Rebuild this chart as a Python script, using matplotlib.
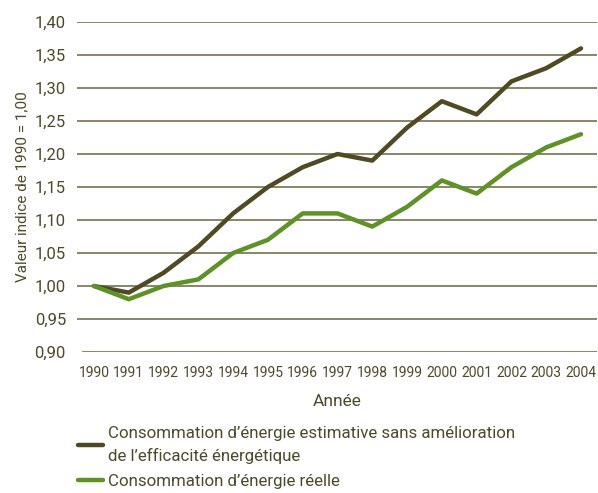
import matplotlib
matplotlib.use("Agg")
import matplotlib.pyplot as plt
from matplotlib.lines import Line2D

plt.rcParams['font.family'] = ['Roboto', 'DejaVu Sans']

years = list(range(1990, 2005))
estimated = [1.00, 0.99, 1.02, 1.06, 1.11, 1.15, 1.18, 1.20, 1.19, 1.24, 1.28, 1.26, 1.31, 1.33, 1.36]
actual = [1.00, 0.98, 1.00, 1.01, 1.05, 1.07, 1.11, 1.11, 1.09, 1.12, 1.16, 1.14, 1.18, 1.21, 1.23]
yticks = [0.90, 0.95, 1.00, 1.05, 1.10, 1.15, 1.20, 1.25, 1.30, 1.35, 1.40]
label_est = "Consommation d\u2019énergie estimative sans amélioration\nde l\u2019efficacité énergétique"
label_act = "Consommation d\u2019énergie réelle"

dark = '#4f4a24'
green = '#5e9127'
grid = '#7f7c5c'
text = '#4b4a2c'

W, H = 598, 493
fig = plt.figure(figsize=(W/100, H/100), dpi=100)
ax = fig.add_axes([77/W, 1-352/H, 520/W, 330/H])

ax.plot(years, estimated, color=dark, lw=3.2, solid_capstyle='round', zorder=3)
ax.plot(years, actual, color=green, lw=3.2, solid_capstyle='round', zorder=3)

ax.set_ylim(0.90, 1.40)
ax.set_xlim(1990 - 17/34.79, 2004 + 16/34.79)
ax.set_yticks(yticks)
ax.set_yticklabels([f"{v:.2f}".replace('.', ',') for v in yticks])
ax.set_xticks(years)
ax.set_xticklabels([str(y) for y in years])
for v in yticks:
    ax.axhline(v, xmin=(6/520 if v == yticks[0] else 0), color=grid, lw=1.3, zorder=1)
for s in ax.spines.values():
    s.set_visible(False)
ax.tick_params(axis='y', length=0, pad=8, labelsize=12, labelcolor=text)
ax.tick_params(axis='x', length=0, pad=10, labelsize=10, labelcolor=text)

ax.set_ylabel("Valeur indice de 1990 = 1,00", fontsize=11, color=text, labelpad=4)
ax.set_xlabel("Année", fontsize=12.5, color=text, labelpad=10)

handles = [Line2D([], [], color=dark, lw=3.2, solid_capstyle='round'),
           Line2D([], [], color=green, lw=3.2, solid_capstyle='round')]
leg = fig.legend(handles, [label_est, label_act], loc='upper left',
                 bbox_to_anchor=(78/W, 1-426/H), frameon=False, fontsize=12.2,
                 labelcolor=text, handlelength=1.45, handletextpad=0.35,
                 labelspacing=0.6, borderpad=0, borderaxespad=0)
for t in leg.get_texts():
    t.set_linespacing(1.5)

fig.savefig('out.png', dpi=100)
